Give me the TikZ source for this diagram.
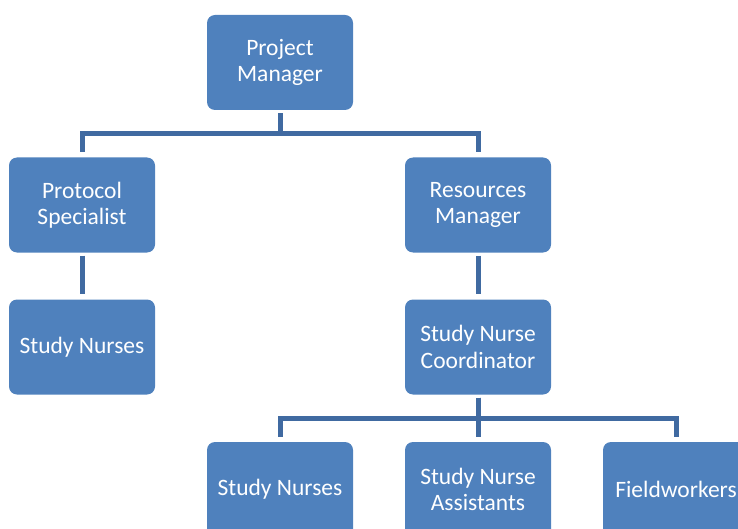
\documentclass[tikz,border=0pt]{standalone}
\usepackage{fontspec}
\setmainfont{Carlito}
\usepackage{tikz}

\definecolor{boxblue}{RGB}{79,129,189}
\definecolor{linkblue}{RGB}{64,106,161}

\begin{document}
\begin{tikzpicture}[x=1pt,y=-1pt,
		rolebox/.style={fill=boxblue, rounded corners=8pt, minimum width=146pt, minimum height=95pt, inner sep=0pt, text=white, align=center, font=\fontsize{23.5}{26.5}\selectfont},
		link/.style={draw=linkblue, line width=5pt, shorten <=3pt, shorten >=5pt}]
				\useasboundingbox (0,0) rectangle (738,529);
				\clip (0,0) rectangle (738,529);
				\node[rolebox] (pm) at (280,62.5) {Project\\Manager};
				\node[rolebox] (ps) at (82,205) {Protocol\\Specialist};
				\node[rolebox] (rm) at (478,205) {Resources\\Manager};
				\node[rolebox] (sn) at (82,347) {Study Nurses};
				\node[rolebox] (snc) at (478,347) {Study Nurse\\Coordinator};
				\node[rolebox] (snb) at (280,489.5) {Study Nurses};
				\node[rolebox] (sna) at (478,489.5) {Study Nurse\\Assistants};
				\node[rolebox] (fw) at (676,489.5) {Fieldworkers};
				\draw[link] (pm.south) -- ++(0,23) -| (ps.north);
				\draw[link] (pm.south) -- ++(0,23) -| (rm.north);
				\draw[link] (ps.south) -- (sn.north);
				\draw[link] (rm.south) -- (snc.north);
				\draw[link] (snc.south) -- ++(0,24) -| (snb.north);
				\draw[link] (snc.south) -- (sna.north);
				\draw[link] (snc.south) -- ++(0,24) -| (fw.north);
		\end{tikzpicture}
\end{document}
